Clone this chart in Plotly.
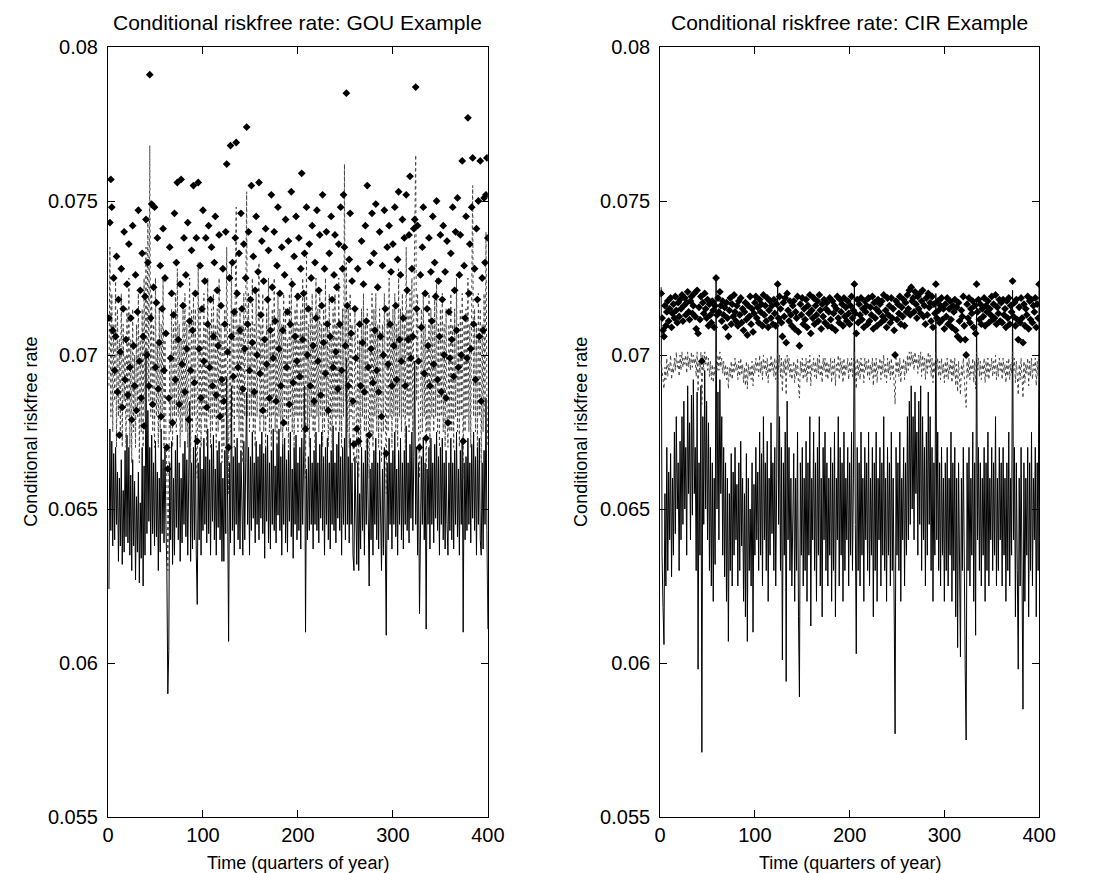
import plotly.graph_objects as go

# =========================
# DATA (units of 1e-5)
# =========================
quarters = list(range(1, 401))

gou_rate = [
    6240, 6760, 6430, 6720, 6380, 6680, 6400, 6700, 6450, 6620, 6330, 6600, 6380, 6660, 6320, 6560, 6360, 6690, 6410, 6740,
    6390, 6700, 6350, 6610, 6300, 6660, 6380, 6590, 6270, 6540, 6360, 6620, 6260, 6520, 6340, 6700, 6250, 6640, 6350, 7020,
    6420, 6820, 6460, 6700, 6350, 6740, 6420, 6650, 6380, 6720, 6410, 6620, 6300, 6600, 6360, 6760, 6420, 6660, 6390, 6700,
    6450, 6300, 5900, 6040, 6650, 6400, 6720, 6320, 6600, 6350, 6690, 6440, 6740, 6400, 6650, 6330, 6600, 6390, 6680, 6450,
    6720, 6410, 6660, 6350, 6600, 6850, 6330, 6650, 6370, 6700, 6400, 6740, 6350, 6190, 6650, 6400, 6700, 6350, 6630, 6430,
    6730, 6450, 6670, 6390, 6760, 6420, 6660, 6350, 6710, 6460, 6740, 6400, 6630, 6350, 6690, 6440, 6720, 6400, 6650, 6330,
    6600, 6330, 6690, 6420, 6930, 6450, 6070, 6650, 6390, 6900, 6430, 6670, 6350, 6700, 6450, 6730, 6400, 6650, 6370, 6690,
    6450, 6350, 6720, 6400, 6650, 6880, 6450, 6700, 6350, 6670, 6430, 6750, 6470, 6650, 6390, 6720, 6450, 6670, 6400, 6710,
    6470, 6750, 6420, 6680, 6340, 6700, 6460, 6740, 6390, 6650, 6370, 6690, 6450, 6760, 6430, 6640, 6390, 6710, 6480, 6760,
    6430, 6670, 6350, 6710, 6450, 6730, 6390, 6660, 6360, 6690, 6460, 6750, 6410, 6630, 6340, 6700, 6450, 6740, 6400, 6650,
    6430, 6700, 6370, 6730, 6450, 6650, 6900, 6100, 6630, 6400, 6670, 6430, 6730, 6450, 6650, 6370, 6690, 6450, 6750, 6430,
    6650, 6390, 6710, 6470, 6750, 6430, 6670, 6350, 6700, 6450, 6730, 6400, 6650, 6370, 6690, 6450, 6770, 6430, 6650, 6390,
    6710, 6470, 6750, 6430, 6670, 6350, 6700, 6450, 6730, 6400, 6990, 6450, 6670, 6390, 6730, 6450, 6650, 6350, 6300, 6670,
    6400, 6320, 6650, 6300, 6550, 6370, 6700, 6430, 6650, 6350, 6690, 6450, 6730, 6390, 6250, 6630, 6400, 6650, 6350, 6690,
    6450, 6730, 6400, 6650, 6370, 6690, 6450, 6300, 6630, 6350, 6700, 6430, 6090, 6650, 6400, 6730, 6450, 6650, 6370, 6690,
    6450, 6750, 6410, 6630, 6350, 6690, 6450, 6730, 6400, 6650, 6370, 6690, 6450, 6770, 6430, 6650, 6390, 6710, 6470, 6750,
    6430, 6670, 6980, 6450, 6700, 6350, 6650, 6160, 6400, 6670, 6450, 6730, 6400, 6650, 6110, 6630, 6450, 6700, 6370, 6730,
    6450, 6650, 6390, 6710, 6470, 6750, 6430, 6670, 6350, 6700, 6450, 6730, 6400, 6650, 6370, 6690, 6450, 6350, 6650, 6430,
    6730, 6400, 6650, 6370, 6690, 6450, 6750, 6410, 6630, 6350, 6690, 6450, 6730, 6100, 6650, 6400, 6670, 6430, 6730, 6450,
    6650, 6390, 6710, 6470, 6750, 6430, 6670, 6350, 6700, 6450, 6730, 6400, 6350, 6650, 6370, 6690, 6450, 6860, 6430, 6110,
]

gou_mid = [
    6900, 7350, 6800, 7200, 6750, 7100, 6850, 7250, 6700, 7150, 6800, 7050, 6750, 7200, 6700, 7100, 6850, 7000, 6700, 7150,
    6800, 7250, 6700, 7050, 6650, 7150, 6750, 7000, 6700, 7100, 6800, 7200, 6650, 7050, 6750, 7150, 6700, 7250, 6800, 7350,
    6900, 7450, 6850, 7680, 6800, 7200, 6750, 7100, 6700, 7250, 6800, 7050, 6700, 7150, 6750, 7100, 6800, 7250, 6700, 7050,
    6750, 6600, 6300, 6550, 7000, 6750, 7150, 6700, 7100, 6800, 7200, 6750, 7280, 6800, 7100, 6700, 7050, 6750, 7150, 6800,
    7200, 6750, 7100, 6700, 7050, 7250, 6650, 7150, 6750, 7200, 6800, 7150, 6700, 6600, 7300, 6750, 7150, 6700, 7050, 6800,
    7200, 6750, 7100, 6700, 7250, 6800, 7100, 6700, 7150, 6750, 7200, 6800, 7100, 6700, 7150, 6750, 7250, 6800, 7100, 6650,
    7050, 6700, 7150, 6800, 7350, 6850, 6550, 7100, 6750, 7300, 6800, 7150, 6700, 7200, 7480, 6800, 7100, 6750, 7150, 6700,
    7100, 6650, 7200, 6800, 7150, 7530, 6800, 7200, 6750, 7100, 6800, 7250, 6750, 7100, 6700, 7200, 6800, 7150, 7300, 6750,
    7100, 6800, 7200, 6750, 7050, 6700, 7150, 6800, 7250, 6750, 7100, 6700, 7150, 6800, 7250, 6750, 7050, 6700, 7200, 6800,
    7150, 6750, 7100, 6700, 7200, 6800, 7150, 6750, 7050, 6700, 7200, 6800, 7250, 6750, 7100, 6700, 7150, 6800, 7200, 6750,
    7100, 6800, 7150, 6750, 7250, 6800, 7200, 6600, 7320, 6750, 7100, 6700, 7150, 6800, 7200, 6750, 7100, 6700, 7250, 6800,
    7150, 6750, 7200, 6800, 7100, 6700, 7150, 6750, 7250, 6800, 7100, 6700, 7200, 6750, 7050, 6700, 7150, 6800, 7200, 6750,
    7100, 6800, 7250, 6750, 7100, 6700, 7150, 6800, 7620, 6850, 7300, 6750, 7150, 6700, 7200, 6800, 7100, 6700, 6650, 7150,
    6800, 6650, 7100, 6600, 7050, 6700, 7150, 6800, 7200, 6750, 7100, 6700, 7150, 6800, 6600, 7100, 6750, 7200, 6700, 7150,
    6800, 7200, 6750, 7100, 6700, 7150, 6800, 6650, 7100, 6750, 7200, 6800, 6550, 7150, 6750, 7250, 6800, 7100, 6700, 7150,
    6800, 7200, 6750, 7100, 6700, 7280, 6800, 7150, 6750, 7200, 6800, 7100, 6700, 7350, 6800, 7150, 6750, 7200, 6800, 7250,
    6750, 7150, 7400, 7650, 6850, 7200, 6750, 6600, 6800, 7150, 6750, 7200, 6800, 7100, 6600, 7050, 6750, 7200, 6700, 7150,
    6800, 7100, 6750, 7200, 6800, 7250, 6750, 7100, 6700, 7150, 6800, 7200, 6750, 7100, 6700, 7150, 6800, 6700, 7100, 6750,
    7200, 6750, 7100, 6700, 7150, 6800, 7250, 6750, 7100, 6700, 7150, 6800, 7200, 6600, 7100, 6750, 7150, 6800, 7250, 6750,
    7100, 6700, 7200, 7550, 6800, 7150, 6750, 7100, 6700, 7200, 6800, 7150, 6650, 7100, 6750, 7200, 6800, 7400, 6850, 6700,
]

gou_upper = [
    7120, 7430, 7570, 7480, 7080, 7250, 6950, 7060, 7320, 6880, 7180, 6740, 7010, 7280, 6830, 7150, 7400, 6920, 7050, 7230,
    6870, 7360, 6960, 7120, 6790, 7420, 7030, 6900, 7260, 6820, 7140, 7470, 6980, 7210, 6860, 7330, 7060, 6770, 7190, 7440,
    7000, 7300, 6900, 7910, 7120, 7490, 6840, 7220, 7480, 6960, 7170, 7380, 6890, 7040, 7290, 6800, 7150, 7410, 6950, 7250,
    7070, 6700, 6630, 6860, 7350, 6990, 7200, 6780, 7130, 7460, 6920, 7300, 7560, 7050, 6840, 7230, 7570, 6970, 7160, 7380,
    6880, 7260, 7020, 7430, 6790, 7110, 6950, 7340, 7080, 7550, 6910, 7200, 7380, 6720, 7560, 7020, 7290, 6860, 7150, 7470,
    6980, 7240, 7380, 6830, 7100, 7420, 6960, 7180, 7350, 6900, 7060, 7300, 7450, 6870, 7210, 7030, 7390, 6800, 7160, 6920,
    7280, 6850, 7100, 7400, 7620, 7010, 6700, 7250, 7680, 7060, 7300, 6930, 7140, 7380, 7690, 7200, 6960, 7330, 7080, 7460,
    7150, 6890, 7360, 7020, 7250, 7740, 7100, 7400, 6950, 7180, 7550, 7040, 7320, 6880, 7210, 7450, 7000, 7270, 7560, 6940,
    7130, 7370, 6820, 7240, 7050, 7410, 6970, 7180, 7340, 6860, 7080, 7520, 7220, 6990, 7400, 7110, 6850, 7290, 7480, 7020,
    7200, 6900, 7350, 7080, 6780, 7260, 7440, 6960, 7140, 7370, 6840, 7100, 7530, 7230, 6910, 7320, 7060, 7450, 6980, 7190,
    7380, 6930, 7280, 7590, 7050, 7200, 7330, 6760, 7480, 7000, 7150, 7360, 6900, 7250, 7420, 7030, 6850, 7300, 7120, 7470,
    6980, 7210, 7390, 6870, 7160, 7520, 7040, 7280, 6940, 7400, 7100, 6820, 7330, 7060, 7450, 7180, 6960, 7260, 7390, 7010,
    7220, 6890, 7360, 7100, 7480, 6950, 7280, 7520, 7350, 7030, 7850, 7160, 6900, 7310, 7460, 7070, 7240, 6850, 6710, 7150,
    6990, 6760, 7280, 6720, 7100, 6900, 7370, 7040, 7230, 6880, 7420, 7110, 7550, 6960, 6740, 7300, 7020, 7460, 6910, 7330,
    7080, 7490, 6950, 7220, 6880, 7400, 7060, 6800, 7290, 7000, 7470, 7150, 6680, 7350, 6970, 7420, 7100, 7270, 6900, 7360,
    7030, 7480, 7160, 6920, 7310, 7530, 7050, 7260, 6980, 7440, 7120, 7380, 6900, 7520, 7210, 7050, 7390, 7580, 6990, 7280,
    7060, 7410, 7440, 7870, 7150, 7420, 6980, 6700, 7260, 7090, 7350, 7480, 6940, 7200, 6730, 7150, 7030, 7380, 6900, 7270,
    7110, 7450, 6970, 7300, 7190, 7500, 6920, 7240, 7060, 7390, 6880, 7180, 7420, 7000, 7270, 6860, 7370, 6780, 7140, 6990,
    7330, 7050, 7480, 6930, 7210, 7400, 7080, 7510, 6960, 7260, 7390, 7000, 7630, 6720, 7290, 7120, 7450, 6990, 7770, 7200,
    7360, 7020, 7480, 7640, 7100, 7280, 6920, 7410, 7180, 7500, 7060, 7630, 6850, 7250, 7080, 7510, 7300, 7520, 7640, 7380,
]

cir_rate = [
    7220, 6350, 6180, 6060, 6550, 6250, 6700, 6300, 6620, 6400, 6680, 6280, 6600, 6350, 6750, 6420, 6800, 6500, 6650, 6300,
    6720, 6400, 6800, 6450, 6850, 6500, 6700, 6350, 6900, 6550, 6780, 6400, 6870, 6480, 6920, 6550, 6700, 6300, 6880, 5980,
    6650, 6350, 6900, 5710, 6800, 6450, 6950, 6500, 6850, 6400, 6780, 6300, 6700, 6250, 6650, 6200, 6600, 6320, 7250, 6500,
    6880, 6400, 6920, 6550, 6800, 6350, 6700, 6280, 6650, 6200, 6600, 6070, 6550, 6300, 6680, 6250, 6620, 6350, 6700, 6400,
    6580, 6250, 6650, 6300, 6720, 6380, 6600, 6200, 6550, 6150, 6680, 6070, 6600, 6300, 6500, 6250, 6650, 6100, 6580, 6350,
    6700, 6400, 6620, 6300, 6750, 6350, 6680, 6250, 6800, 6400, 6650, 6300, 6720, 6200, 6600, 6350, 6780, 6420, 6650, 6300,
    6700, 6250, 6600, 7220, 6450, 6800, 6300, 6700, 6010, 6650, 6350, 6750, 5940, 6850, 6400, 6700, 6300, 6600, 6250, 6550,
    6680, 6200, 6600, 6300, 6750, 6150, 5890, 6650, 6350, 6700, 6250, 6600, 6300, 6720, 6200, 6650, 6350, 6800, 6120, 6600,
    6400, 6750, 6300, 6650, 6200, 6700, 6350, 6800, 6250, 6600, 6150, 6700, 6400, 6750, 6300, 6650, 6250, 6600, 6350, 6700,
    6200, 6650, 6300, 6750, 6150, 6600, 6400, 6800, 6250, 6700, 6350, 6650, 6200, 6750, 6300, 6600, 6400, 6700, 6250, 6650,
    6350, 6750, 6300, 6600, 7230, 6450, 6030, 6700, 6300, 6650, 6250, 6750, 6350, 6600, 6200, 6700, 6400, 6650, 6300, 6750,
    6250, 6600, 6350, 6700, 6150, 6650, 6300, 6750, 6200, 6600, 6400, 6700, 6250, 6650, 6350, 6800, 6300, 6600, 6200, 6700,
    6350, 6650, 6250, 6750, 6300, 6600, 6150, 5770, 6700, 6350, 6650, 6300, 6750, 6200, 6600, 6400, 6700, 6250, 6650, 6350,
    6800, 6400, 6850, 6450, 6900, 6500, 6800, 6400, 6880, 6550, 6750, 6350, 6850, 6450, 6900, 6300, 6800, 6400, 6700, 6250,
    6750, 6350, 6880, 6450, 6800, 6300, 6700, 6200, 6650, 6350, 7200, 6400, 6750, 6300, 6650, 6250, 6700, 6350, 6600, 6200,
    6650, 6300, 6700, 6250, 6600, 6350, 6750, 6200, 6650, 6300, 6700, 6150, 6600, 6050, 6650, 6250, 6020, 6600, 6300, 6700,
    6200, 5980, 5750, 6650, 6300, 6700, 6250, 6600, 6350, 6750, 6200, 6650, 6090, 7180, 6400, 6700, 6300, 6650, 6250, 6600,
    6350, 6700, 6200, 6650, 6300, 6750, 6250, 6600, 6400, 6700, 6300, 6650, 6350, 6800, 6250, 6600, 6300, 6700, 6400, 6650,
    6250, 6700, 6350, 6600, 6200, 6650, 6300, 6750, 6250, 6600, 6350, 7210, 6400, 6700, 6150, 6650, 6300, 5980, 6600, 6250,
    6700, 6300, 5850, 6650, 6200, 6600, 6350, 6700, 6150, 6650, 6300, 6750, 6250, 6600, 6400, 6700, 6150, 6650, 6300, 7230,
]

cir_mid = [
    6980, 6940, 6910, 6890, 6960, 6920, 6990, 6930, 6970, 6950, 7000, 6920, 6960, 6940, 6990, 6950, 7010, 6960, 6980, 6930,
    7000, 6950, 7010, 6960, 6990, 6970, 7000, 6940, 7010, 6960, 6990, 6950, 7010, 6960, 7000, 6970, 6990, 6930, 7010, 6880,
    6980, 6940, 7010, 6840, 7000, 6950, 7010, 6970, 7000, 6950, 6990, 6930, 6980, 6920, 6970, 6910, 6960, 6930, 7010, 6950,
    7000, 6950, 7010, 6960, 6990, 6940, 6980, 6930, 6970, 6920, 6960, 6890, 6960, 6930, 6980, 6920, 6970, 6940, 6990, 6950,
    6970, 6920, 6980, 6930, 6990, 6940, 6970, 6910, 6960, 6900, 6980, 6890, 6970, 6930, 6960, 6920, 6980, 6900, 6970, 6940,
    6990, 6950, 6980, 6930, 7000, 6940, 6980, 6920, 7000, 6950, 6980, 6930, 6990, 6910, 6970, 6940, 7000, 6950, 6980, 6930,
    6990, 6920, 6970, 7010, 6950, 7000, 6930, 6990, 6880, 6980, 6940, 6990, 6870, 7000, 6950, 6990, 6930, 6970, 6920, 6960,
    6980, 6910, 6970, 6930, 6990, 6900, 6860, 6980, 6940, 6990, 6920, 6970, 6930, 6990, 6910, 6980, 6940, 7000, 6900, 6970,
    6950, 6990, 6930, 6980, 6920, 6990, 6940, 7000, 6930, 6970, 6910, 6990, 6950, 6990, 6930, 6980, 6920, 6970, 6940, 6990,
    6910, 6980, 6930, 6990, 6900, 6970, 6950, 7000, 6920, 6990, 6940, 6980, 6910, 6990, 6930, 6970, 6950, 6990, 6920, 6980,
    6940, 6990, 6930, 6970, 7010, 6960, 6890, 6990, 6930, 6980, 6920, 6990, 6940, 6970, 6910, 6990, 6950, 6980, 6930, 6990,
    6920, 6970, 6940, 6990, 6900, 6980, 6930, 6990, 6910, 6970, 6950, 6990, 6920, 6980, 6940, 7000, 6930, 6970, 6910, 6990,
    6940, 6980, 6920, 6990, 6930, 6970, 6900, 6840, 6990, 6940, 6980, 6930, 6990, 6910, 6970, 6950, 6990, 6920, 6980, 6940,
    7000, 6950, 7010, 6960, 7010, 6970, 7000, 6950, 7010, 6970, 6990, 6940, 7000, 6960, 7010, 6930, 7000, 6950, 6990, 6920,
    6990, 6940, 7010, 6960, 7000, 6930, 6990, 6910, 6980, 6940, 7010, 6950, 6990, 6930, 6980, 6920, 6990, 6940, 6970, 6910,
    6980, 6930, 6990, 6920, 6970, 6940, 6990, 6910, 6980, 6930, 6990, 6900, 6970, 6880, 6980, 6920, 6870, 6970, 6930, 6990,
    6910, 6870, 6830, 6980, 6930, 6990, 6920, 6970, 6940, 6990, 6910, 6980, 6890, 7010, 6950, 6990, 6930, 6980, 6920, 6970,
    6940, 6990, 6910, 6980, 6930, 6990, 6920, 6970, 6950, 6990, 6930, 6980, 6940, 7000, 6920, 6970, 6930, 6990, 6950, 6980,
    6920, 6990, 6940, 6970, 6910, 6980, 6930, 6990, 6920, 6970, 6940, 7010, 6950, 6990, 6910, 6980, 6930, 6870, 6970, 6920,
    6990, 6930, 6860, 6980, 6910, 6970, 6940, 6990, 6900, 6980, 6930, 6990, 6920, 6970, 6950, 6990, 6900, 6980, 6930, 7010,
]

cir_upper = [
    7200, 7120, 7080, 7060, 7160, 7095, 7140, 7175, 7110, 7150, 7185, 7090, 7135, 7165, 7120, 7190, 7145, 7105, 7170, 7125,
    7180, 7150, 7195, 7110, 7160, 7185, 7130, 7170, 7205, 7140, 7115, 7175, 7190, 7135, 7160, 7200, 7125, 7085, 7210, 7070,
    7155, 7115, 7190, 6980, 7170, 7135, 7200, 7150, 7120, 7180, 7095, 7165, 7130, 7105, 7175, 7145, 7090, 7160, 7250, 7130,
    7185, 7140, 7205, 7160, 7110, 7175, 7130, 7155, 7090, 7170, 7120, 7060, 7145, 7185, 7100, 7165, 7125, 7195, 7140, 7110,
    7160, 7095, 7175, 7130, 7185, 7105, 7150, 7080, 7140, 7170, 7115, 7065, 7160, 7125, 7190, 7100, 7150, 7075, 7135, 7170,
    7190, 7120, 7155, 7105, 7180, 7140, 7165, 7095, 7195, 7130, 7160, 7110, 7185, 7090, 7145, 7175, 7120, 7160, 7100, 7180,
    7135, 7095, 7165, 7230, 7120, 7190, 7150, 7105, 7060, 7170, 7125, 7185, 7040, 7200, 7145, 7110, 7175, 7130, 7095, 7160,
    7175, 7085, 7140, 7120, 7190, 7075, 7030, 7165, 7130, 7185, 7100, 7150, 7115, 7180, 7090, 7160, 7135, 7195, 7070, 7145,
    7120, 7185, 7100, 7160, 7130, 7175, 7110, 7195, 7145, 7085, 7165, 7125, 7180, 7105, 7150, 7170, 7095, 7140, 7185, 7115,
    7090, 7175, 7135, 7160, 7080, 7150, 7190, 7120, 7105, 7180, 7140, 7165, 7095, 7185, 7125, 7155, 7110, 7175, 7135, 7100,
    7160, 7190, 7120, 7145, 7230, 7135, 7070, 7180, 7105, 7165, 7130, 7185, 7115, 7150, 7090, 7175, 7140, 7160, 7100, 7185,
    7110, 7155, 7130, 7190, 7085, 7170, 7120, 7150, 7095, 7180, 7140, 7165, 7105, 7175, 7125, 7195, 7115, 7145, 7090, 7185,
    7130, 7160, 7105, 7185, 7120, 7150, 7080, 7000, 7175, 7115, 7165, 7135, 7190, 7100, 7155, 7125, 7180, 7095, 7170, 7140,
    7195, 7150, 7210, 7130, 7220, 7175, 7185, 7140, 7205, 7165, 7120, 7190, 7150, 7200, 7135, 7175, 7210, 7125, 7160, 7100,
    7185, 7130, 7200, 7155, 7170, 7110, 7190, 7090, 7165, 7135, 7230, 7120, 7175, 7145, 7105, 7160, 7185, 7115, 7150, 7085,
    7165, 7125, 7185, 7100, 7150, 7175, 7115, 7090, 7160, 7140, 7180, 7080, 7155, 7060, 7170, 7110, 7050, 7145, 7125, 7190,
    7095, 7050, 7000, 7165, 7120, 7185, 7105, 7150, 7135, 7175, 7090, 7160, 7070, 7230, 7140, 7180, 7115, 7165, 7100, 7150,
    7125, 7185, 7095, 7160, 7140, 7175, 7105, 7150, 7130, 7190, 7115, 7165, 7120, 7195, 7100, 7155, 7135, 7180, 7110, 7170,
    7105, 7180, 7130, 7150, 7090, 7175, 7120, 7185, 7100, 7160, 7140, 7240, 7125, 7170, 7095, 7180, 7115, 7050, 7155, 7105,
    7185, 7120, 7040, 7165, 7095, 7150, 7130, 7190, 7085, 7175, 7115, 7180, 7105, 7160, 7140, 7185, 7090, 7165, 7120, 7230,
]

y_ticks = [0.055, 0.06, 0.065, 0.07, 0.075, 0.08]
y_tick_labels = ["0.055", "0.06", "0.065", "0.07", "0.075", "0.08"]
x_ticks = [0, 100, 200, 300, 400]
panel_titles = ["Conditional riskfree rate: GOU Example", "Conditional riskfree rate: CIR Example"]
x_label = "Time (quarters of year)"
y_label = "Conditional riskfree rate"

SCALE = 1e-5
FONT = "Arial, Liberation Sans, Helvetica, sans-serif"


def scaled(values):
    return [v * SCALE for v in values]


# =========================
# FIGURE
# =========================
fig = go.Figure()

panels = [
    ("x", "y", gou_rate, gou_mid, gou_upper),
    ("x2", "y2", cir_rate, cir_mid, cir_upper),
]

for xa, ya, rate, mid, upper in panels:
    fig.add_trace(go.Scatter(x=quarters, y=scaled(rate), mode="lines", xaxis=xa, yaxis=ya,
                             line=dict(color="black", width=1), showlegend=False))
    fig.add_trace(go.Scatter(x=quarters, y=scaled(mid), mode="lines", xaxis=xa, yaxis=ya,
                             line=dict(color="#444444", width=1, dash="dot"), showlegend=False))
    fig.add_trace(go.Scatter(x=quarters, y=scaled(upper), mode="markers", xaxis=xa, yaxis=ya,
                             marker=dict(color="black", size=6, symbol="diamond"), showlegend=False))

axis_common = dict(showline=True, linecolor="black", linewidth=1, mirror="ticks",
                   ticks="inside", ticklen=7, tickcolor="black", showgrid=False, zeroline=False,
                   tickfont=dict(family=FONT, size=20, color="black"))

fig.update_layout(
    width=1099, height=873,
    margin=dict(l=0, r=0, t=39, b=64),
    paper_bgcolor="white", plot_bgcolor="white",
    xaxis=dict(domain=[96 / 1099, 484 / 1099], range=[0, 400], tickvals=x_ticks, anchor="y", **axis_common),
    xaxis2=dict(domain=[660 / 1099, 1047 / 1099], range=[0, 400], tickvals=x_ticks, anchor="y2", **axis_common),
    yaxis=dict(range=[0.055, 0.08], tickvals=y_ticks, ticktext=y_tick_labels, anchor="x",
               ticklabelstandoff=5, **axis_common),
    yaxis2=dict(range=[0.055, 0.08], tickvals=y_ticks, ticktext=y_tick_labels, anchor="x2",
                ticklabelstandoff=5, **axis_common),
)

# titles and axis labels placed as annotations
centers = [(96 + 484) / 2 / 1099, (660 + 1047) / 2 / 1099]
ylabel_x = [17 / 1099, 579 / 1099]
for i in range(2):
    fig.add_annotation(text=panel_titles[i], xref="paper", yref="paper", x=centers[i], y=(809 - 15) / 770,
                       showarrow=False, xanchor="center", yanchor="middle",
                       font=dict(family=FONT, size=21, color="black"))
    fig.add_annotation(text=x_label, xref="paper", yref="paper", x=centers[i], y=(809 - 855) / 770,
                       showarrow=False, xanchor="center", yanchor="middle",
                       font=dict(family=FONT, size=18, color="black"))
    fig.add_annotation(text=y_label, xref="paper", yref="paper", x=ylabel_x[i], y=0.5, textangle=-90,
                       showarrow=False, xanchor="center", yanchor="middle",
                       font=dict(family=FONT, size=18, color="black"))

fig.write_html("out.html")
